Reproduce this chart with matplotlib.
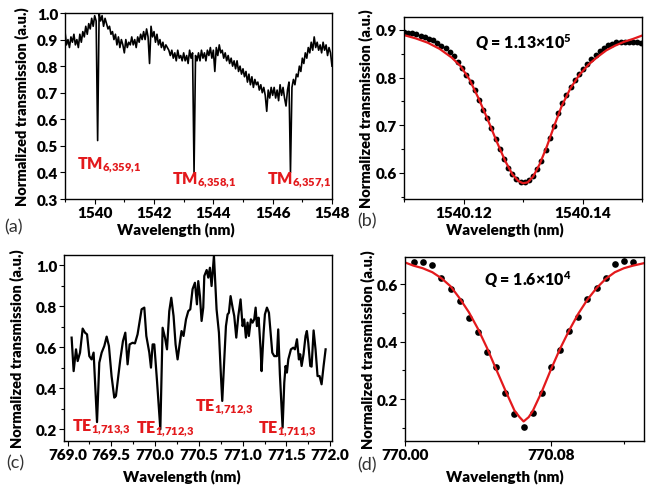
import numpy as np
import matplotlib
matplotlib.use("Agg")
import matplotlib.pyplot as plt
from matplotlib.ticker import MultipleLocator

plt.rcParams["font.family"] = ["Lato", "DejaVu Sans"]
plt.rcParams["font.weight"] = "bold"
plt.rcParams["mathtext.fontset"] = "custom"
plt.rcParams["mathtext.rm"] = "Lato:heavy"
plt.rcParams["mathtext.bf"] = "Lato:heavy"
plt.rcParams["mathtext.it"] = "Lato:heavy:italic"

RED = "#e3191c"
WEIGHT = "heavy"

# (a) broad TM spectrum, sampled every 0.05 nm from 1539.00 to 1548.00
wl_a = np.arange(1539.0, 1548.001, 0.05)
tr_a = [
    0.93, 0.88, 0.90, 0.87, 0.91, 0.89, 0.92, 0.88, 0.90, 0.87,
    0.92, 0.89, 0.93, 0.91, 0.95, 0.92, 0.96, 0.94, 0.98, 0.95,
    0.99, 0.97, 0.52, 1.00, 0.97, 0.99, 0.95, 0.98, 0.96, 0.94,
    0.95, 0.92, 0.93, 0.90, 0.92, 0.88, 0.91, 0.87, 0.90, 0.88,
    0.85, 0.90, 0.87, 0.89, 0.88, 0.91, 0.88, 0.90, 0.87, 0.91,
    0.89, 0.92, 0.90, 0.93, 0.90, 0.94, 0.91, 0.81, 0.95, 0.91,
    0.93, 0.89, 0.92, 0.88, 0.90, 0.87, 0.89, 0.86, 0.88, 0.87,
    0.86, 0.84, 0.86, 0.83, 0.85, 0.82, 0.86, 0.83, 0.84, 0.82,
    0.85, 0.82, 0.84, 0.81, 0.86, 0.83, 0.85, 0.40, 0.84, 0.82,
    0.85, 0.82, 0.86, 0.83, 0.85, 0.82, 0.86, 0.84, 0.87, 0.83,
    0.86, 0.78, 0.87, 0.84, 0.88, 0.85, 0.86, 0.83, 0.85, 0.82,
    0.84, 0.81, 0.83, 0.80, 0.82, 0.79, 0.82, 0.78, 0.80, 0.77,
    0.79, 0.76, 0.78, 0.74, 0.77, 0.73, 0.76, 0.72, 0.75, 0.73,
    0.74, 0.71, 0.73, 0.70, 0.72, 0.69, 0.63, 0.71, 0.68, 0.72,
    0.69, 0.72, 0.68, 0.71, 0.67, 0.73, 0.69, 0.72, 0.68, 0.65,
    0.71, 0.74, 0.40, 0.72, 0.75, 0.73, 0.77, 0.76, 0.80, 0.78,
    0.83, 0.81, 0.85, 0.83, 0.87, 0.85, 0.89, 0.86, 0.91, 0.87,
    0.89, 0.86, 0.88, 0.85, 0.89, 0.86, 0.88, 0.84, 0.87, 0.85,
    0.80,
]
labels_a = ["TM$_{6{,}359{,}1}$", "TM$_{6{,}358{,}1}$", "TM$_{6{,}357{,}1}$"]
label_a_x = [1539.39, 1542.62, 1545.8]
label_a_y = [0.43, 0.375, 0.375]

# (b) zoom on the 1540.13 nm resonance, points every 0.0007 nm
wl_b = 1540.110 + 0.0007 * np.arange(58)
tr_b = [
    0.895, 0.894, 0.893, 0.891, 0.888, 0.885, 0.881, 0.878, 0.873, 0.867,
    0.861, 0.853, 0.845, 0.833, 0.820, 0.806, 0.791, 0.773, 0.753, 0.731,
    0.714, 0.695, 0.670, 0.649, 0.629, 0.611, 0.598, 0.586, 0.581, 0.580,
    0.585, 0.593, 0.607, 0.625, 0.648, 0.673, 0.698, 0.725, 0.746, 0.764,
    0.780, 0.794, 0.807, 0.818, 0.829, 0.838, 0.847, 0.855, 0.862, 0.868,
    0.871, 0.874, 0.875, 0.875, 0.875, 0.874, 0.874, 0.873,
]
fit_b_off = [0.0, 2.0, 4.0, 6.0, 8.0, 9.5, 11.0, 12.5, 14.0, 15.5, 17.0, 18.2,
             19.2, 20.0, 20.8, 21.7, 22.8, 24.0, 25.2, 26.5, 28.0, 29.5, 31.0,
             32.5, 34.0, 35.5, 37.0, 38.5, 40.0]
fit_b = [0.889, 0.882, 0.873, 0.860, 0.842, 0.824, 0.796, 0.757, 0.714, 0.668,
         0.625, 0.597, 0.583, 0.578, 0.580, 0.592, 0.618, 0.655, 0.697, 0.740,
         0.778, 0.806, 0.827, 0.843, 0.857, 0.867, 0.875, 0.881, 0.888]

# (c) TE spectrum around 770 nm
wl_c = [769.047, 769.07, 769.097, 769.116, 769.143, 769.173, 769.2, 769.223,
        769.249, 769.275, 769.298, 769.337, 769.363, 769.39, 769.42, 769.447,
        769.473, 769.503, 769.534, 769.553, 769.58, 769.603, 769.633, 769.66,
        769.686, 769.709, 769.743, 769.77, 769.8, 769.846, 769.877, 769.9,
        769.934, 769.953, 769.972, 769.991, 770.022, 770.06, 770.086, 770.113,
        770.136, 770.162, 770.185, 770.211, 770.234, 770.257, 770.28, 770.302,
        770.325, 770.353, 770.379, 770.402, 770.428, 770.455, 770.478, 770.493,
        770.512, 770.531, 770.55, 770.562, 770.589, 770.607, 770.626, 770.645,
        770.672, 770.702, 770.729, 770.752, 770.767, 770.79, 770.809, 770.828,
        770.843, 770.862, 770.885, 770.904, 770.927, 770.95, 770.976, 770.999,
        771.018, 771.037, 771.056, 771.071, 771.094, 771.113, 771.132, 771.148,
        771.163, 771.182, 771.205, 771.216, 771.239, 771.254, 771.277, 771.3,
        771.319, 771.338, 771.361, 771.391, 771.406, 771.425, 771.456, 771.475,
        771.49, 771.505, 771.521, 771.551, 771.578, 771.597, 771.62, 771.642,
        771.657, 771.673, 771.695, 771.718, 771.733, 771.749, 771.772, 771.787,
        771.81, 771.832, 771.855, 771.878, 771.901, 771.924, 771.947]
tr_c = [0.647, 0.484, 0.590, 0.533, 0.574, 0.691, 0.671, 0.663,
        0.557, 0.541, 0.574, 0.236, 0.525, 0.574, 0.606, 0.652,
        0.606, 0.460, 0.355, 0.363, 0.460, 0.541, 0.630, 0.671,
        0.517, 0.614, 0.622, 0.619, 0.663, 0.785, 0.793, 0.655,
        0.574, 0.501, 0.614, 0.614, 0.436, 0.201, 0.695, 0.647,
        0.590, 0.776, 0.841, 0.752, 0.614, 0.541, 0.614, 0.679,
        0.655, 0.736, 0.776, 0.785, 0.883, 0.914, 0.809, 0.922,
        0.849, 0.728, 0.793, 0.947, 0.976, 0.939, 0.987, 0.898,
        1.045, 0.785, 0.671, 0.460, 0.339, 0.541, 0.703, 0.760,
        0.768, 0.849, 0.793, 0.752, 0.647, 0.752, 0.833, 0.703,
        0.736, 0.647, 0.720, 0.655, 0.736, 0.720, 0.736, 0.793,
        0.703, 0.744, 0.590, 0.484, 0.671, 0.760, 0.793, 0.768,
        0.671, 0.574, 0.557, 0.557, 0.687, 0.468, 0.209, 0.428,
        0.509, 0.477, 0.541, 0.590, 0.598, 0.590, 0.639, 0.541,
        0.566, 0.509, 0.566, 0.655, 0.679, 0.622, 0.509, 0.506,
        0.682, 0.590, 0.460, 0.460, 0.420, 0.509, 0.590]
labels_c = ["TE$_{1{,}713{,}3}$", "TE$_{1{,}712{,}3}$", "TE$_{1{,}712{,}3}$", "TE$_{1{,}711{,}3}$"]
label_c_x = [769.05, 769.78, 770.46, 771.17]
label_c_y = [0.215, 0.205, 0.315, 0.205]

# (d) zoom on the 770.065 nm resonance, points every 0.005 nm
wl_d = 770.005 + 0.005 * np.arange(25)
tr_d = [0.678, 0.675, 0.666, 0.621, 0.583, 0.542, 0.482, 0.434, 0.362, 0.310,
        0.221, 0.149, 0.104, 0.151, 0.220, 0.312, 0.369, 0.438, 0.484, 0.547,
        0.586, 0.621, 0.671, 0.679, 0.678]
fit_d_wl = [770.0, 770.0046, 770.0097, 770.015, 770.020, 770.025, 770.030,
            770.035, 770.040, 770.045, 770.050, 770.055, 770.060, 770.0628,
            770.065, 770.0678, 770.070, 770.075, 770.080, 770.085, 770.090,
            770.095, 770.100, 770.105, 770.110, 770.115, 770.120, 770.125,
            770.1306]
fit_d = [0.675, 0.664, 0.655, 0.641, 0.620, 0.592, 0.550, 0.502, 0.444, 0.377,
         0.303, 0.230, 0.160, 0.137, 0.122, 0.137, 0.158, 0.226, 0.303, 0.375,
         0.439, 0.497, 0.546, 0.586, 0.618, 0.641, 0.655, 0.664, 0.672]

W, H = 657, 489
fig = plt.figure(figsize=(W / 100, H / 100), dpi=100)


def make_ax(l, t, r, b):
    ax = fig.add_axes([l / W, 1 - b / H, (r - l) / W, (b - t) / H])
    ax.tick_params(which="both", direction="out", labelsize=11, width=0.8,
                   pad=1.5, colors="black")
    ax.tick_params(which="major", length=3.5)
    ax.tick_params(which="minor", length=2.5)
    for s in ax.spines.values():
        s.set_linewidth(1.0)
    return ax


def bold_ticks(ax):
    for lab in ax.get_xticklabels() + ax.get_yticklabels():
        lab.set_fontweight(WEIGHT)


ylab = "Normalized transmission (a.u.)"

# panel (a)
ax = make_ax(65, 14, 332, 200)
ax.plot(wl_a, tr_a, color="black", lw=1.2)
ax.set_xlim(1539.0, 1548.0)
ax.set_ylim(0.3, 1.0)
ax.xaxis.set_major_locator(MultipleLocator(2))
ax.xaxis.set_minor_locator(MultipleLocator(1))
ax.yaxis.set_major_locator(MultipleLocator(0.1))
ax.yaxis.set_major_formatter(plt.FormatStrFormatter("%.1f"))
bold_ticks(ax)
for s, x, y in zip(labels_a, label_a_x, label_a_y):
    ax.text(x, y, s, color=RED, fontsize=11.5, fontweight=WEIGHT, va="center")

# panel (b)
ax = make_ax(404, 18, 642, 200)
ax.plot(wl_b, tr_b, "o", color="black", ms=4.2, mec="none")
ax.plot(1540.11 + 0.001 * np.array(fit_b_off), fit_b, color=RED, lw=1.6)
ax.set_xlim(1540.11, 1540.15)
ax.set_ylim(0.545, 0.927)
ax.xaxis.set_major_locator(MultipleLocator(0.02))
ax.xaxis.set_minor_locator(MultipleLocator(0.01))
ax.xaxis.set_major_formatter(plt.FormatStrFormatter("%.2f"))
ax.yaxis.set_major_locator(MultipleLocator(0.1))
ax.yaxis.set_minor_locator(MultipleLocator(0.05))
ax.yaxis.set_major_formatter(plt.FormatStrFormatter("%.1f"))
bold_ticks(ax)
ax.text(1540.130, 0.876, "$Q$ = 1.13×10$^{5}$", fontsize=11.5, fontweight=WEIGHT,
        ha="center", va="center")

# panel (c)
ax = make_ax(64, 256, 332, 442)
ax.plot(wl_c, tr_c, color="black", lw=1.6)
ax.set_xlim(768.96, 772.02)
ax.set_ylim(0.144, 1.049)
ax.xaxis.set_major_locator(MultipleLocator(0.5))
ax.xaxis.set_minor_locator(MultipleLocator(0.25))
ax.xaxis.set_major_formatter(plt.FormatStrFormatter("%.1f"))
ax.yaxis.set_major_locator(MultipleLocator(0.2))
ax.yaxis.set_minor_locator(MultipleLocator(0.1))
ax.yaxis.set_major_formatter(plt.FormatStrFormatter("%.1f"))
bold_ticks(ax)
for s, x, y in zip(labels_c, label_c_x, label_c_y):
    ax.text(x, y, s, color=RED, fontsize=11.5, fontweight=WEIGHT, va="center")

# panel (d)
ax = make_ax(405, 258, 644, 442)
ax.plot(wl_d, tr_d, "o", color="black", ms=4.8, mec="none")
ax.plot(fit_d_wl, fit_d, color=RED, lw=1.6)
ax.set_xlim(770.0, 770.131)
ax.set_ylim(0.054, 0.694)
ax.xaxis.set_major_locator(MultipleLocator(0.08))
ax.xaxis.set_minor_locator(MultipleLocator(0.04))
ax.xaxis.set_major_formatter(plt.FormatStrFormatter("%.2f"))
ax.yaxis.set_major_locator(MultipleLocator(0.2))
ax.yaxis.set_minor_locator(MultipleLocator(0.1))
ax.yaxis.set_major_formatter(plt.FormatStrFormatter("%.1f"))
bold_ticks(ax)
ax.text(770.067, 0.617, "$Q$ = 1.6×10$^{4}$", fontsize=11.5, fontweight=WEIGHT,
        ha="center", va="center")

# axis titles and panel letters placed as in the original layout
for x, y in [(176, 230), (505, 230), (182, 477), (505, 477)]:
    fig.text(x / W, 1 - y / H, "Wavelength (nm)", fontsize=11, fontweight=WEIGHT,
             ha="center", va="center")
for x, y in [(22, 107), (366, 109), (17, 349), (368, 350)]:
    fig.text(x / W, 1 - y / H, ylab, fontsize=10.5, fontweight=WEIGHT,
             rotation=90, ha="center", va="center")
for x, y, s in [(4, 227, "(a)"), (357, 221, "(b)"), (6, 463, "(c)"), (357, 465, "(d)")]:
    fig.text(x / W, 1 - y / H, s, fontsize=13, fontweight="normal", color="#333333",
             ha="left", va="center")

fig.savefig("out.png", dpi=100)
